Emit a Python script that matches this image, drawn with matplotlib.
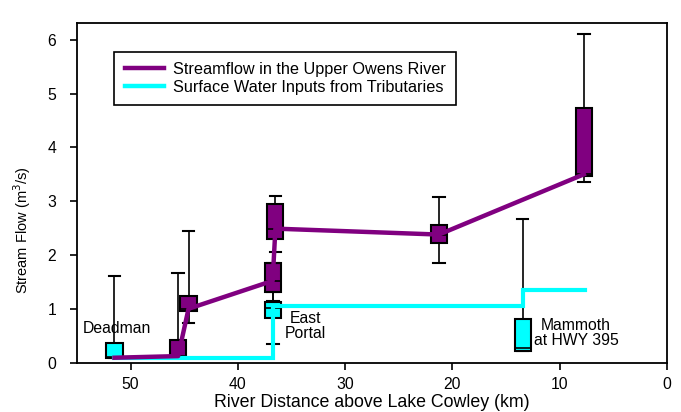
import numpy as np
import matplotlib.pyplot as plt
from matplotlib.lines import Line2D

plt.rcParams['font.family'] = ['Liberation Sans', 'DejaVu Sans']

# ---------------- Streamflow boxes (Upper Owens River) ----------------
main_pos   = [45.57, 44.6, 36.76, 36.5, 21.26, 7.75]
main_q1    = [0.11, 0.95, 1.31, 2.30, 2.22, 3.46]
main_med   = [0.12, 1.00, 1.52, 2.49, 2.38, 3.51]
main_q3    = [0.42, 1.23, 1.85, 2.95, 2.56, 4.73]
main_lo    = [0.11, 0.73, 1.15, 2.05, 1.85, 3.36]
main_hi    = [1.67, 2.45, 1.85, 3.09, 3.08, 6.11]

# ---------------- Tributary boxes ----------------
trib_pos   = [51.5, 36.76, 13.46]
trib_q1    = [0.08, 0.83, 0.22]
trib_med   = [0.10, 1.01, 0.27]
trib_q3    = [0.36, 1.12, 0.81]
trib_lo    = [0.08, 0.35, 0.22]
trib_hi    = [1.61, 1.31, 2.67]

# ---------------- Lines ----------------
flow_x = [51.5, 45.57, 44.6, 36.76, 36.5, 21.26, 7.75]
flow_y = [0.09, 0.12, 1.00, 1.52, 2.49, 2.38, 3.50]
inputs_x = [51.5, 36.7, 13.45, 7.6]
inputs_y = [0.08, 1.06, 1.35, 1.35]

# ---------------- Site labels ----------------
site_names = ['Deadman', 'East\nPortal', 'Mammoth\nat HWY 395']
site_x = [51.3, 33.7, 8.47]
site_y = [0.63, 0.68, 0.55]

purple = '#800080'
cyan = '#00FFFF'


def stats(q1, med, q3, lo, hi):
    return [dict(q1=a, med=b, q3=c, whislo=d, whishi=e, fliers=[])
            for a, b, c, d, e in zip(q1, med, q3, lo, hi)]


fig = plt.figure(figsize=(6.81, 4.12), dpi=100)
ax = fig.add_axes([0.113, 0.12, 0.8664, 0.825])

for st, pos, col in [(stats(main_q1, main_med, main_q3, main_lo, main_hi), main_pos, purple),
                     (stats(trib_q1, trib_med, trib_q3, trib_lo, trib_hi), trib_pos, cyan)]:
    ax.bxp(st, positions=pos, widths=1.5, capwidths=1.1, patch_artist=True,
           showfliers=False, manage_ticks=False,
           boxprops=dict(facecolor=col, edgecolor='black', linewidth=1.5),
           medianprops=dict(color='black', linewidth=1.2),
           whiskerprops=dict(color='black', linewidth=1.2),
           capprops=dict(color='black', linewidth=1.5))

ax.plot(inputs_x, inputs_y, color=cyan, lw=3, drawstyle='steps-post', zorder=4,
        solid_joinstyle='miter')
ax.plot(flow_x, flow_y, color=purple, lw=3.2, zorder=5)

for name, sx, sy in zip(site_names, site_x, site_y):
    ax.text(sx, sy, name, fontsize=11.3, ha='center', va='center',
            multialignment='center', linespacing=1.0)

ax.set_xlim(55, 0)
ax.set_ylim(0, 6.32)
ax.set_xticks([50, 40, 30, 20, 10, 0])
ax.set_yticks(range(7))
ax.tick_params(labelsize=11.3, length=5, width=1.2, direction='out')
ax.tick_params(axis='y', pad=10)
ax.tick_params(axis='x', pad=5.5)
for s in ax.spines.values():
    s.set_linewidth(1.3)
ax.set_xlabel('River Distance above Lake Cowley (km)', fontsize=12.8, labelpad=1)
ax.set_ylabel('Stream Flow (m$^3$/s)', fontsize=10.5)
ax.yaxis.set_label_coords(-0.075, 0.39)

handles = [Line2D([], [], color=purple, lw=3.2), Line2D([], [], color=cyan, lw=3.2)]
leg = ax.legend(handles, ['Streamflow in the Upper Owens River',
                          'Surface Water Inputs from Tributaries'],
                loc='upper left', bbox_to_anchor=(0.063, 0.915), fontsize=11.7,
                fancybox=False, framealpha=1, edgecolor='black', handlelength=2.4,
                handletextpad=0.55, borderpad=0.65, labelspacing=0.15,
                borderaxespad=0)
leg.get_frame().set_linewidth(1.2)

fig.savefig('out.png', dpi=100)
